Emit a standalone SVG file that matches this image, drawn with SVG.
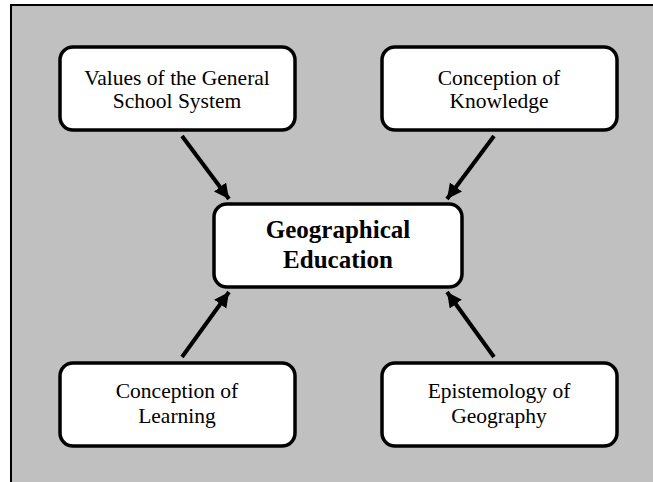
<svg xmlns="http://www.w3.org/2000/svg" width="653" height="482" viewBox="0 0 653 482">
<style>
.box{fill:#fff;stroke:#000;stroke-width:3.5}
.t{font-family:"Liberation Serif","Times New Roman",serif;font-size:21.5px;text-anchor:middle;fill:#000}
.b{font-family:"Liberation Serif","Times New Roman",serif;font-size:25px;font-weight:bold;text-anchor:middle;fill:#000}
.c{stroke:#000;stroke-width:4;fill:none;marker-end:url(#ah)}
</style>
<defs>
<marker id="ah" markerUnits="userSpaceOnUse" markerWidth="16" markerHeight="16" refX="15" refY="7.5" orient="auto">
<path d="M0,0 L15,7.5 L0,15 Z" fill="#000"/>
</marker>
</defs>
<rect x="0" y="0" width="653" height="482" fill="#fff"/>
<rect x="11" y="5" width="650" height="490" fill="#c0c0c0" stroke="#000" stroke-width="2"/>
<g id="connectors">
<line class="c" x1="182" y1="136" x2="229" y2="199"/>
<line class="c" x1="494" y1="136" x2="447" y2="199"/>
<line class="c" x1="182" y1="357" x2="229" y2="292"/>
<line class="c" x1="494" y1="357" x2="447" y2="292"/>
</g>
<g id="values">
<rect class="box" x="60" y="47" width="235" height="83" rx="13"/>
<text class="t" x="177" y="85">Values of the General</text>
<text class="t" x="177" y="108">School System</text>
</g>
<g id="knowledge">
<rect class="box" x="382" y="47" width="235" height="83" rx="13"/>
<text class="t" x="499" y="85">Conception of</text>
<text class="t" x="499" y="108">Knowledge</text>
</g>
<g id="geo">
<rect class="box" x="214" y="204" width="248" height="83" rx="13"/>
<text class="b" x="338" y="238">Geographical</text>
<text class="b" x="338" y="268">Education</text>
</g>
<g id="learning">
<rect class="box" x="60" y="363" width="235" height="83" rx="13"/>
<text class="t" x="177" y="398">Conception of</text>
<text class="t" x="177" y="423">Learning</text>
</g>
<g id="epistemology">
<rect class="box" x="382" y="363" width="235" height="83" rx="13"/>
<text class="t" x="499" y="398">Epistemology of</text>
<text class="t" x="499" y="423">Geography</text>
</g>
</svg>
